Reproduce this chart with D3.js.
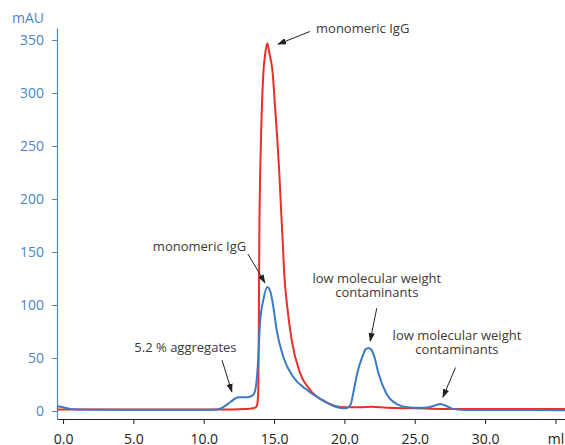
<!DOCTYPE html>
<html>
<head>
<meta charset="utf-8">
<script src="https://cdn.jsdelivr.net/npm/d3@7"></script>
<style>
  body { margin: 0; background: #fff; }
  svg { display: block; font-family: "Open Sans", sans-serif; }
  .note { font-size: 13px; fill: #3a3a3a; }
</style>
</head>
<body>
<div class="chart"></div>
<script>
// elution volume (ml) / absorbance (mAU)
const redMl  = [-0.43, 2, 5, 8, 10, 12, 13, 13.5, 13.7, 13.8, 13.88, 13.91, 13.95, 14.07, 14.24, 14.38, 14.52, 14.66, 14.9, 15.07, 15.23, 15.37, 15.49, 15.61, 15.72, 15.94, 16.25, 16.84, 17.55, 18.76, 20, 21, 22, 23, 25, 27, 30, 35.7]
const redAU  = [1.5, 1.5, 1.5, 1.5, 1.5, 1.5, 1.8, 2.5, 3.5, 6, 20, 67, 161, 256, 319, 338, 347, 338, 319, 287, 256, 225, 192, 161, 130, 98, 67, 36, 20, 8, 3.5, 3.5, 4, 3, 2.5, 2, 2, 1.8]

const blueMl = [-0.43, 0, 0.5, 1, 5, 10, 11, 11.3, 11.9, 12.45, 13.1, 13.5, 13.65, 13.77, 13.88, 14.0, 14.24, 14.52, 14.75, 14.95, 15.19, 15.66, 16.37, 17.32, 18.48, 19.2, 20.0, 20.2, 20.44, 20.63, 20.92, 21.27, 21.5, 21.7, 21.9, 22.13, 22.41, 22.96, 23.8, 24.5, 25.3, 26, 26.5, 26.8, 27.2, 27.7, 28.5, 30, 35.7]
const blueAU = [4.5, 3.5, 2, 1.5, 1.2, 1.2, 1.5, 3, 8.5, 13, 13, 15, 19, 30, 51, 83, 105, 117, 112, 98, 76, 51, 32, 20, 10, 5, 2.5, 3, 6, 17, 36, 51, 58, 59.5, 58, 51, 36, 17, 6, 3.5, 3, 3.5, 5.5, 6.5, 5, 2, 1, 1, 0.8]

const xTicks = [0, 5, 10, 15, 20, 25, 30, 35]
const xTickLabels = ["0.0", "5.0", "10.0", "15.0", "20.0", "25.0", "30.0", "ml"]
const yTicks = [0, 50, 100, 150, 200, 250, 300, 350]

// annotations: label lines, text anchor point, arrow from -> to (in data units)
const notes = [
  { lines: ["monomeric IgG"], at: [21.3, 357], from: [17.55, 358], to: [15.28, 346] },
  { lines: ["monomeric IgG"], at: [9.7, 151], from: [13.15, 148], to: [14.35, 121] },
  { lines: ["5.2 % aggregates"], at: [8.7, 56], from: [11.3, 48], to: [12.0, 18] },
  { lines: ["low molecular weight", "contaminants"], at: [22.3, 121], from: [22.3, 97], to: [21.83, 66] },
  { lines: ["low molecular weight", "contaminants"], at: [28.0, 67], from: [27.9, 41], to: [27.0, 13] }
]

const red = "#e8302b", blue = "#3b7bc4", axisBlue = "#4a86c8"

const W = 565, H = 445
const svg = d3.select(".chart").append("svg")
    .attr("width", W)
    .attr("height", H)
    .attr("viewBox", `0 0 ${W} ${H}`)

const x = d3.scaleLinear().domain([-0.43, 35.68]).range([57, 565])
const y = d3.scaleLinear().domain([-7.55, 361.3]).range([419, 28])

// arrow head
svg.append("defs").append("marker")
    .attr("id", "arrow")
    .attr("viewBox", "0 0 10 10")
    .attr("refX", 9).attr("refY", 5)
    .attr("markerWidth", 9).attr("markerHeight", 9)
    .attr("markerUnits", "userSpaceOnUse")
    .attr("orient", "auto")
  .append("path")
    .attr("d", "M0,1.5 L10,5 L0,8.5 Z")
    .attr("fill", "#222")

// x axis
const xAxis = svg.append("g")
    .attr("transform", `translate(0,${y.range()[0]})`)
    .call(d3.axisBottom(x).tickValues(xTicks).tickSize(5).tickSizeOuter(0).tickPadding(10)
      .tickFormat((d, i) => xTickLabels[i]))
xAxis.select(".domain").attr("stroke", "#222")
xAxis.selectAll(".tick line").attr("stroke", "#222")
xAxis.selectAll("text").attr("font-size", 14).attr("fill", "#222").attr("font-family", "Open Sans")

// y axis
const yAxis = svg.append("g")
    .attr("transform", `translate(${x.range()[0]},0)`)
    .call(d3.axisLeft(y).tickValues(yTicks).tickSize(5).tickSizeOuter(0).tickPadding(8))
yAxis.select(".domain").attr("stroke", axisBlue).attr("stroke-width", 1.2)
yAxis.selectAll(".tick line").attr("stroke", axisBlue)
yAxis.selectAll("text").attr("font-size", 14).attr("fill", axisBlue).attr("font-family", "Open Sans")

svg.append("text")
    .attr("x", 44).attr("y", 23)
    .attr("text-anchor", "end")
    .attr("font-size", 14)
    .attr("fill", axisBlue)
    .text("mAU")

// curves
const line = d3.line()
    .curve(d3.curveMonotoneX)
    .x(d => x(d[0]))
    .y(d => y(d[1]))

svg.append("path")
    .attr("d", line(d3.zip(redMl, redAU)))
    .attr("fill", "none")
    .attr("stroke", red)
    .attr("stroke-width", 2)

svg.append("path")
    .attr("d", line(d3.zip(blueMl, blueAU)))
    .attr("fill", "none")
    .attr("stroke", blue)
    .attr("stroke-width", 2)

// annotations
notes.forEach(n => {
  const t = svg.append("text")
      .attr("class", "note")
      .attr("text-anchor", "middle")
      .attr("x", x(n.at[0]))
      .attr("y", y(n.at[1]))
  n.lines.forEach((l, i) => {
    t.append("tspan").attr("x", x(n.at[0])).attr("dy", i ? 14 : 0).text(l)
  })
  svg.append("line")
      .attr("x1", x(n.from[0])).attr("y1", y(n.from[1]))
      .attr("x2", x(n.to[0])).attr("y2", y(n.to[1]))
      .attr("stroke", "#222")
      .attr("stroke-width", 1)
      .attr("marker-end", "url(#arrow)")
})
</script>
</body>
</html>
